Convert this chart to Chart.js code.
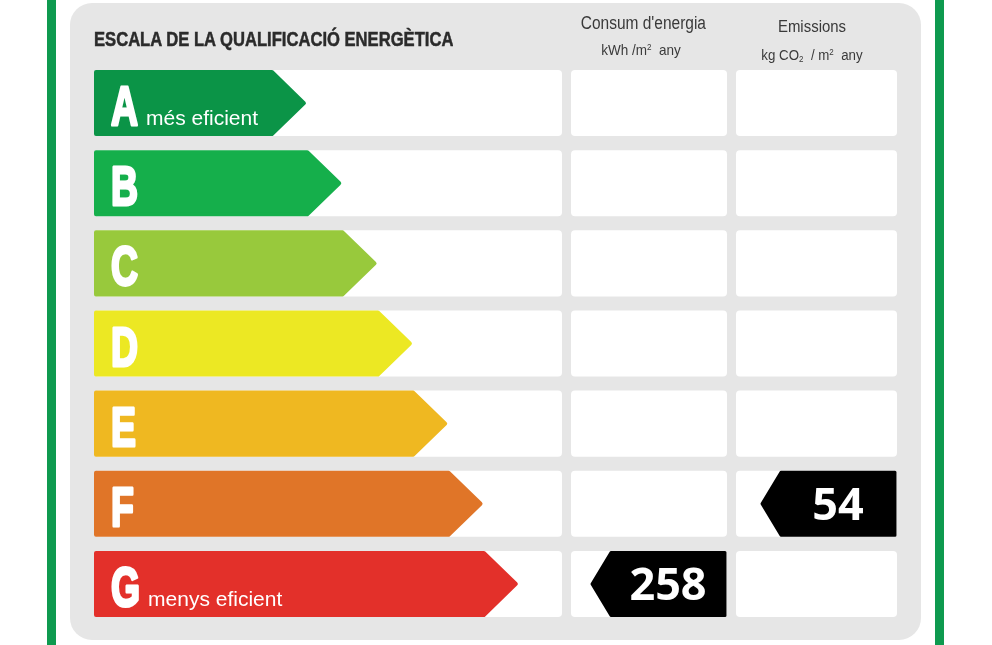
<!DOCTYPE html>
<html lang="ca">
<head>
<meta charset="UTF-8">
<title>Escala de la qualificació energètica</title>
<script src="https://cdn.jsdelivr.net/npm/chart.js"></script>
<style>
  html, body { margin: 0; padding: 0; background: #fff; }
  body { width: 992px; height: 645px; position: relative; overflow: hidden;
         font-family: "Liberation Sans", Arial, sans-serif; }
  .rule { position: absolute; top: 0; width: 9px; height: 645px; background: #0e9a4f; }
  .panel { position: absolute; left: 70px; top: 3px; width: 851px; height: 637px;
           border-radius: 22px; background: #e6e6e6; }
  #label { position: absolute; left: 0; top: 0; }
  /* no narrow face installed, so squeeze the regular one */
  .title { position: absolute; left: 94px; top: 29px; font-weight: bold; font-size: 20px;
           line-height: 20px; color: #2b2b2b; white-space: nowrap;
           -webkit-text-stroke: 0.5px #2b2b2b;
           transform: scaleX(0.83); transform-origin: left center; }
  .head { position: absolute; text-align: center; color: #3a3a3a; white-space: nowrap;
          transform-origin: center center; }
  .head sup { font-size: 0.6em; vertical-align: 0.6em; }
  .head sub { font-size: 0.6em; vertical-align: -0.2em; }
</style>
</head>
<body>
  <div class="rule" style="left:47px"></div>
  <div class="rule" style="left:935px"></div>
  <div class="panel"></div>
  <canvas id="label" width="992" height="645"></canvas>
  <div class="title">ESCALA DE LA QUALIFICACIÓ ENERGÈTICA</div>
  <div class="head" style="left:571px; width:140px; top:14px; font-size:18px; line-height:18px; transform:scaleX(0.86)">Consum d'energia</div>
  <div class="head" style="left:571px; width:140px; top:40px; font-size:15px; line-height:15px; transform:scaleX(0.9)">kWh /m<sup>2</sup>&nbsp; any</div>
  <div class="head" style="left:741px; width:142px; top:18px; font-size:17px; line-height:17px; transform:scaleX(0.88)">Emissions</div>
  <div class="head" style="left:741px; width:142px; top:45px; font-size:14px; line-height:14px; transform:scaleX(0.95)">kg CO<sub>2</sub>&nbsp; / m<sup>2</sup>&nbsp; any</div>
<script>
    const ratings = ['A', 'B', 'C', 'D', 'E', 'F', 'G'];
    const arrowLength = [6, 7, 8, 9, 10, 11, 12];
    const ratingNotes = ['més eficient', '', '', '', '', '', 'menys eficient'];
    const consumption = [null, null, null, null, null, null, 258];
    const emissions = [null, null, null, null, null, 54, null];

    const ratingColors = ['#0b9447', '#15af4b', '#98c93c', '#ece823', '#efb821', '#e07528', '#e3302a'];

    // value columns to the right of the arrow band (offsets from chartArea.right)
    const columns = [
        { from: 9, width: 156, values: consumption },
        { from: 174, width: 161, values: emissions }
    ];
    const TIP = 32;
    const MARK_W = 135, MARK_TIP = 19;

    function roundRect(ctx, x, y, w, h, r) {
        ctx.beginPath();
        ctx.roundRect(x, y, w, h, r);
        ctx.fill();
    }

    function arrowRight(ctx, left, right, top, bottom, tip) {
        const mid = (top + bottom) / 2;
        ctx.beginPath();
        ctx.moveTo(left, top);
        ctx.lineTo(right - tip, top);
        ctx.lineTo(right, mid);
        ctx.lineTo(right - tip, bottom);
        ctx.lineTo(left, bottom);
        ctx.closePath();
    }

    function arrowLeft(ctx, left, right, top, bottom, tip) {
        const mid = (top + bottom) / 2;
        ctx.beginPath();
        ctx.moveTo(right, top);
        ctx.lineTo(left + tip, top);
        ctx.lineTo(left, mid);
        ctx.lineTo(left + tip, bottom);
        ctx.lineTo(right, bottom);
        ctx.closePath();
    }

    const energyLabel = {
        id: 'energyLabel',
        beforeDatasetsDraw(chart) {
            const { ctx, chartArea } = chart;
            const bars = chart.getDatasetMeta(0).data;
            ctx.save();
            ctx.fillStyle = '#ffffff';
            bars.forEach(bar => {
                const top = bar.y - bar.height / 2;
                roundRect(ctx, chartArea.left, top, chartArea.right - chartArea.left, bar.height, 4);
                columns.forEach(c => roundRect(ctx, chartArea.right + c.from, top, c.width, bar.height, 4));
            });
            ctx.restore();
        },
        afterDatasetsDraw(chart) {
            const { ctx, chartArea } = chart;
            const bars = chart.getDatasetMeta(0).data;
            ctx.save();
            ctx.lineJoin = 'round';
            bars.forEach((bar, i) => {
                const top = bar.y - bar.height / 2 + 2;
                const bottom = bar.y + bar.height / 2 - 2;
                ctx.lineWidth = 4;
                ctx.fillStyle = ratingColors[i];
                ctx.strokeStyle = ratingColors[i];
                arrowRight(ctx, bar.base + 2, bar.x - 2, top, bottom, TIP);
                ctx.fill();
                ctx.stroke();

                // grade letter, squeezed to look condensed, stroked to look heavier
                ctx.fillStyle = '#ffffff';
                ctx.strokeStyle = '#ffffff';
                ctx.textBaseline = 'alphabetic';
                ctx.font = 'bold 55px "Liberation Sans", sans-serif';
                const lx = bar.base + 17;
                const base = bar.y + 22;
                ctx.save();
                ctx.translate(lx, base);
                ctx.scale(0.68, 1);
                ctx.lineWidth = 3;
                ctx.fillText(ratings[i], 0, 0);
                ctx.strokeText(ratings[i], 0, 0);
                const lw = ctx.measureText(ratings[i]).width * 0.68;
                ctx.restore();
                if (ratingNotes[i]) {
                    ctx.font = '21px "Liberation Sans", sans-serif';
                    ctx.fillText(ratingNotes[i], lx + lw + 8, base);
                }

                // value markers
                columns.forEach(c => {
                    const v = c.values[i];
                    if (v == null) return;
                    const right = chartArea.right + c.from + c.width - 2;
                    const left = right - MARK_W + 2;
                    ctx.fillStyle = '#000000';
                    ctx.strokeStyle = '#000000';
                    ctx.lineWidth = 3;
                    arrowLeft(ctx, left, right, top - 0.5, bottom + 0.5, MARK_TIP);
                    ctx.fill();
                    ctx.stroke();
                    ctx.fillStyle = '#ffffff';
                    ctx.font = 'bold 45px "Open Sans", sans-serif';
                    ctx.textAlign = 'center';
                    ctx.fillText(String(v), (left + MARK_TIP + right) / 2, bar.y + 16);
                    ctx.textAlign = 'left';
                });
            });
            ctx.restore();
        }
    };

    new Chart(document.getElementById('label'), {
        type: 'bar',
        data: {
            labels: ratings,
            datasets: [{
                label: 'Qualificació',
                data: arrowLength,
                backgroundColor: 'rgba(0,0,0,0)',
                borderWidth: 0,
                categoryPercentage: 1,
                barPercentage: 0.824
            }]
        },
        options: {
            indexAxis: 'y',
            responsive: false,
            animation: false,
            devicePixelRatio: 1,
            layout: { padding: { left: 94, right: 430, top: 63, bottom: 21 } },
            scales: {
                x: { display: false, min: 0, max: 13.25 },
                y: { display: false }
            },
            plugins: {
                legend: { display: false },
                tooltip: { enabled: false }
            }
        },
        plugins: [energyLabel]
    });
</script>
</body>
</html>
